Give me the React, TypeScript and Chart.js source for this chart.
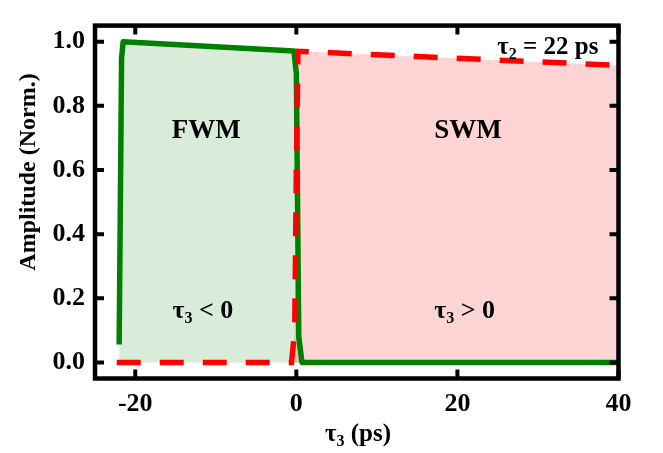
import React, { useEffect, useRef } from "react";
import { Chart, registerables } from "chart.js";
Chart.register(...registerables);

// FWM (tau3 < 0) trace
const fwmX = [-22.0, -21.7, -21.5, -0.3, 0.0, 0.15, 0.3, 0.7, 40];
const fwmY = [0.056, 0.95, 1.0, 0.971, 0.9, 0.5, 0.08, 0.0, 0.0];
// SWM (tau3 > 0) trace
const swmX = [-22.3, -0.6, -0.2, 0.0, 0.2, 40];
const swmY = [0.0, 0.0, 0.1, 0.6, 0.97, 0.926];

const xTicks = [-20, 0, 20, 40];
const yTicks = [0.0, 0.2, 0.4, 0.6, 0.8, 1.0];
const xRange = [-25, 40];
const yRange = [-0.05, 1.05];

const xTitle = [{ t: "τ" }, { t: "3", sub: true }, { t: " (ps)" }];
const yTitle = "Amplitude (Norm.)";
const labelFWM = "FWM";
const labelSWM = "SWM";
const labelNeg = [{ t: "τ" }, { t: "3", sub: true }, { t: " < 0" }];
const labelPos = [{ t: "τ" }, { t: "3", sub: true }, { t: " > 0" }];
const labelTau2 = [{ t: "τ" }, { t: "2", sub: true }, { t: " = 22 ps" }];

const FONT = "'Liberation Serif', 'Times New Roman', serif";

type Part = { t: string; sub?: boolean };

function drawRich(ctx: CanvasRenderingContext2D, parts: Part[], x: number, y: number, size: number, align: "left" | "center" | "right") {
  const fMain = `bold ${size}px ${FONT}`;
  const fSub = `bold ${Math.round(size * 0.62)}px ${FONT}`;
  let total = 0;
  const widths = parts.map((p) => {
    ctx.font = p.sub ? fSub : fMain;
    const w = ctx.measureText(p.t).width;
    total += w;
    return w;
  });
  let cx = align === "left" ? x : align === "center" ? x - total / 2 : x - total;
  ctx.textAlign = "left";
  ctx.textBaseline = "alphabetic";
  parts.forEach((p, i) => {
    ctx.font = p.sub ? fSub : fMain;
    ctx.fillText(p.t, cx, p.sub ? y + size * 0.2 : y);
    cx += widths[i];
  });
}

const framePlugin = {
  id: "frameAndText",
  afterDraw(chart: any) {
    const { ctx, chartArea: a, scales } = chart;
    const xs = scales.x;
    const ys = scales.y;
    ctx.save();
    ctx.strokeStyle = "#000";
    ctx.lineWidth = 4.5;
    ctx.strokeRect(a.left, a.top, a.right - a.left, a.bottom - a.top);
    ctx.lineWidth = 4;
    const tl = 9;
    ctx.beginPath();
    xTicks.forEach((v) => {
      const px = xs.getPixelForValue(v);
      ctx.moveTo(px, a.bottom);
      ctx.lineTo(px, a.bottom - tl);
      ctx.moveTo(px, a.top);
      ctx.lineTo(px, a.top + tl);
    });
    yTicks.forEach((v) => {
      const py = ys.getPixelForValue(v);
      ctx.moveTo(a.left, py);
      ctx.lineTo(a.left + tl, py);
      ctx.moveTo(a.right, py);
      ctx.lineTo(a.right - tl, py);
    });
    ctx.stroke();

    ctx.fillStyle = "#000";
    // annotations
    drawRich(ctx, [{ t: labelFWM }], xs.getPixelForValue(-11.2), ys.getPixelForValue(0.70), 27, "center");
    drawRich(ctx, [{ t: labelSWM }], xs.getPixelForValue(21.3), ys.getPixelForValue(0.70), 27, "center");
    drawRich(ctx, labelNeg, xs.getPixelForValue(-11.6), ys.getPixelForValue(0.138), 26, "center");
    drawRich(ctx, labelPos, xs.getPixelForValue(20.9), ys.getPixelForValue(0.138), 26, "center");
    drawRich(ctx, labelTau2, a.right - 20, a.top + 28, 25, "right");

    // axis titles
    drawRich(ctx, xTitle, 358, 441, 25, "center");
    ctx.save();
    ctx.translate(35, 172);
    ctx.rotate(-Math.PI / 2);
    drawRich(ctx, [{ t: yTitle }], 0, 0, 24, "center");
    ctx.restore();
    ctx.restore();
  },
};

export default function App() {
  const ref = useRef<HTMLCanvasElement>(null);
  useEffect(() => {
    if (!ref.current) return;
    const chart = new Chart(ref.current, {
      type: "line",
      data: {
        datasets: [
          {
            label: "FWM",
            data: fwmX.map((x, i) => ({ x, y: fwmY[i] })),
            borderColor: "#008000",
            backgroundColor: "rgba(0,128,0,0.15)",
            borderWidth: 5.5,
            borderJoinStyle: "round",
            fill: "origin",
            pointRadius: 0,
            tension: 0,
            order: 2,
          },
          {
            label: "SWM",
            data: swmX.map((x, i) => ({ x, y: swmY[i] })),
            borderColor: "#ff0000",
            backgroundColor: "rgba(255,0,0,0.17)",
            borderWidth: 5.5,
            borderDash: [24, 19],
            fill: "origin",
            pointRadius: 0,
            tension: 0,
            order: 1,
          },
        ],
      },
      options: {
        animation: false,
        responsive: false,
        maintainAspectRatio: false,
        layout: { padding: { top: 5.5, right: 44.5, left: 0, bottom: 0 } },
        plugins: {
          legend: { display: false },
          tooltip: { enabled: false },
          filler: { drawTime: "beforeDatasetsDraw" },
        } as any,
        scales: {
          x: {
            type: "linear",
            min: xRange[0],
            max: xRange[1],
            grid: { display: false, drawTicks: false },
            border: { display: false },
            afterBuildTicks: (s: any) => {
              s.ticks = xTicks.map((v) => ({ value: v }));
            },
            afterFit: (s: any) => {
              s.height = 74.5;
            },
            ticks: {
              color: "#000",
              padding: 10,
              maxRotation: 0,
              font: { family: FONT, size: 26, weight: "bold" },
              callback: (v: any) => String(v),
            },
          },
          y: {
            type: "linear",
            min: yRange[0],
            max: yRange[1],
            grid: { display: false, drawTicks: false },
            border: { display: false },
            afterBuildTicks: (s: any) => {
              s.ticks = yTicks.map((v) => ({ value: v }));
            },
            afterFit: (s: any) => {
              s.width = 95;
            },
            ticks: {
              color: "#000",
              padding: 10,
              font: { family: FONT, size: 26, weight: "bold" },
              callback: (v: any) => Number(v).toFixed(1),
            },
          },
        },
      },
      plugins: [framePlugin],
    });
    return () => chart.destroy();
  }, []);
  return (
    <div style={{ position: "fixed", left: 0, top: 0, width: 663, height: 453, background: "#fff" }}>
      <canvas ref={ref} width={663} height={453} style={{ width: 663, height: 453 }} />
    </div>
  );
}
